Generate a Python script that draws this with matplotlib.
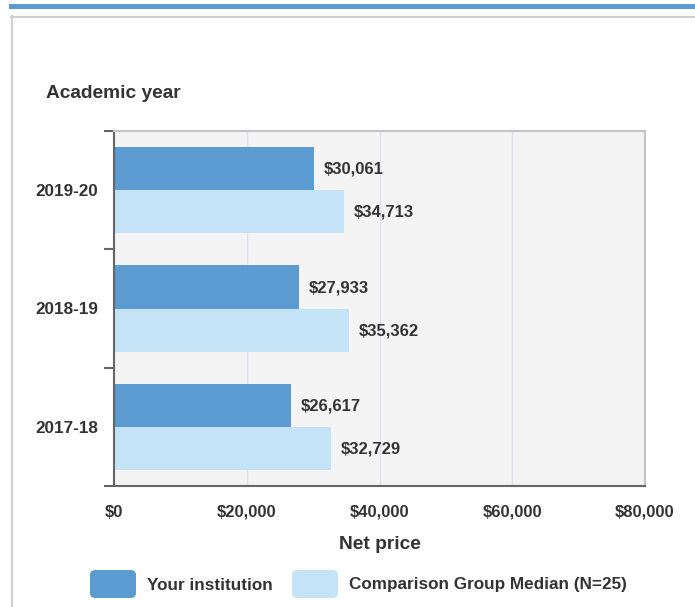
import matplotlib.pyplot as plt
from matplotlib.patches import FancyBboxPatch, Rectangle
from matplotlib.lines import Line2D

years = ["2019-20", "2018-19", "2017-18"]
your_institution = [30061, 27933, 26617]
comparison_median = [34713, 35362, 32729]
x_ticks = [0, 20000, 40000, 60000, 80000]
series_names = ["Your institution", "Comparison Group Median (N=25)"]

DARK = "#5B9BD1"
LIGHT = "#C5E3F7"
TEXT = "#333333"

plt.rcParams['font.family'] = ['Liberation Sans', 'DejaVu Sans']
plt.rcParams['font.weight'] = 'bold'

W, H = 695, 607
fig = plt.figure(figsize=(W / 100, H / 100), dpi=100)


def fx(px):
    return px / W


def fy(py):
    return 1 - py / H


# page decoration: blue strip and grey card border
fig.patches.append(Rectangle((fx(9), fy(9)), fx(686), 5 / H, transform=fig.transFigure,
                             color="#5B9BD1", lw=0))
fig.lines.append(Line2D([fx(11), 1], [fy(16.5), fy(16.5)], transform=fig.transFigure,
                        color="#D0D0D0", lw=1.5))
fig.lines.append(Line2D([fx(11.5), fx(11.5)], [fy(16), 0], transform=fig.transFigure,
                        color="#D0D0D0", lw=1.5))

ax = fig.add_axes([fx(114), fy(486), fx(645 - 114), (486 - 131) / H])
ax.set_facecolor("#F4F4F4")

y = list(range(len(years)))
h = 0.364
ax.barh([v - h / 2 for v in y], your_institution, height=h, color=DARK, lw=0, zorder=2)
ax.barh([v + h / 2 for v in y], comparison_median, height=h, color=LIGHT, lw=0, zorder=2)

for i in y:
    ax.annotate(f"${your_institution[i]:,}", (your_institution[i], i - h / 2),
                xytext=(7, -0.5), textcoords="offset points", va="center", ha="left",
                fontsize=12, fontweight="bold", color=TEXT)
    ax.annotate(f"${comparison_median[i]:,}", (comparison_median[i], i + h / 2),
                xytext=(7, -0.5), textcoords="offset points", va="center", ha="left",
                fontsize=12, fontweight="bold", color=TEXT)

ax.set_xlim(0, 80000)
ax.set_ylim(len(years) - 0.5, -0.5)

ax.set_xticks(x_ticks)
ax.set_xticklabels([f"${v:,}" for v in x_ticks])
ax.tick_params(axis="x", length=0, pad=13.5, labelsize=12, labelcolor=TEXT)
ax.grid(axis="x", color="#DCE2F0", lw=1, zorder=1)

ax.set_yticks(y)
ax.set_yticklabels(years)
ax.tick_params(axis="y", which="major", length=0, pad=11.5, labelsize=12.3, labelcolor=TEXT)
ax.set_yticks([v - 0.5 for v in range(len(years) + 1)], minor=True)
ax.tick_params(axis="y", which="minor", length=7.5, width=1.5, color="#666666")

for side in ["left", "bottom"]:
    ax.spines[side].set_color("#666666")
    ax.spines[side].set_linewidth(1.5)
for side in ["top", "right"]:
    ax.spines[side].set_color("#C4C4C4")
    ax.spines[side].set_linewidth(1.5)

ax.set_xlabel("Net price", fontsize=13.8, fontweight="bold", color=TEXT, labelpad=12)
fig.text(fx(46), fy(93.5), "Academic year", fontsize=13.8, fontweight="bold", color=TEXT,
         va="center", ha="left")

# legend
for x0, color, name in [(90, DARK, series_names[0]), (292, LIGHT, series_names[1])]:
    fig.patches.append(FancyBboxPatch((fx(x0), fy(598)), fx(46), 28 / H,
                                      boxstyle="round,pad=0,rounding_size=0.008",
                                      transform=fig.transFigure, color=color, lw=0))
    fig.text(fx(x0 + 57), fy(585), name, fontsize=12.3, fontweight="bold", color=TEXT,
             va="center", ha="left")

fig.savefig("out.png", dpi=100)
